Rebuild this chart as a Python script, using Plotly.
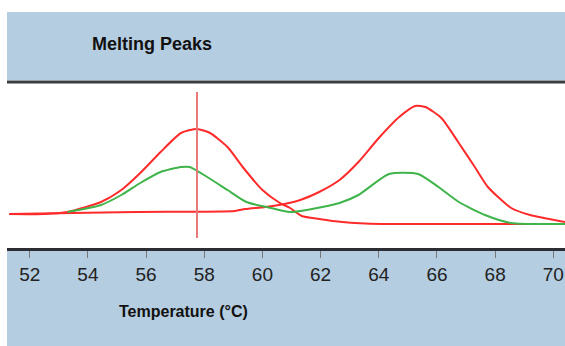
import plotly.graph_objects as go

# ---- data ----
temp_red_a = [51.3, 52.5, 53.3, 54.45, 55.15, 55.8, 56.5, 57.2, 57.75, 58.2, 58.8, 59.35,
              60.0, 60.6, 60.95, 61.35, 61.95, 62.75, 64.1, 66.4, 70.4]
peak_red_a = [0.34, 0.34, 0.36, 0.46, 0.58, 0.75, 0.96, 1.15, 1.19, 1.15, 1.01, 0.80,
              0.58, 0.45, 0.40, 0.32, 0.29, 0.26, 0.24, 0.24, 0.24]

temp_red_b = [51.3, 55.65, 59.05, 59.4, 60.1, 60.75, 61.3, 61.95, 62.65, 63.3, 64.0, 64.7,
              65.25, 65.6, 66.15, 66.75, 67.3, 67.75, 68.55, 69.2, 70.4]
peak_red_b = [0.34, 0.36, 0.37, 0.39, 0.41, 0.44, 0.48, 0.56, 0.68, 0.86, 1.10, 1.31,
              1.42, 1.41, 1.30, 1.05, 0.81, 0.61, 0.40, 0.33, 0.26]

temp_green = [53.3, 54.45, 55.15, 55.8, 56.5, 57.2, 57.5, 58.1, 58.8, 59.45, 60.15, 60.95,
              61.7, 62.65, 63.3, 64.35, 65.35, 66.05, 66.75, 67.65, 68.55, 70.4]
peak_green = [0.36, 0.43, 0.53, 0.65, 0.76, 0.81, 0.81, 0.71, 0.58, 0.46, 0.41, 0.36,
              0.39, 0.45, 0.53, 0.74, 0.74, 0.61, 0.46, 0.33, 0.25, 0.24]

cursor_temp = [57.75, 57.75]
cursor_span = [0.10, 1.56]

tick_vals = [52, 54, 56, 58, 60, 62, 64, 66, 68, 70]
tick_text = ["52", "54", "56", "58", "60", "62", "64", "66", "68", "70"]

title_text = "Melting Peaks"
xlabel_text = "Temperature (°C)"

RED = "#ff2b2b"
GREEN = "#3fb44a"
BLUE = "#b5cde0"
FONT = "Liberation Sans, Arial, sans-serif"

fig = go.Figure()
fig.add_trace(go.Scatter(x=temp_red_b, y=peak_red_b, mode="lines",
                         line=dict(color=RED, width=2, shape="spline", smoothing=0.6),
                         hoverinfo="skip"))
fig.add_trace(go.Scatter(x=temp_red_a, y=peak_red_a, mode="lines",
                         line=dict(color=RED, width=2, shape="spline", smoothing=0.6),
                         hoverinfo="skip"))
fig.add_trace(go.Scatter(x=temp_green, y=peak_green, mode="lines",
                         line=dict(color=GREEN, width=2, shape="spline", smoothing=0.6),
                         hoverinfo="skip"))
fig.add_trace(go.Scatter(x=cursor_temp, y=cursor_span, mode="lines",
                         line=dict(color="#e87a7a", width=2), hoverinfo="skip"))

H_PLOT = 164.0
shapes = [
    # top blue band
    dict(type="rect", xref="paper", yref="paper", x0=0, x1=1,
         y0=1 + 4 / H_PLOT, y1=1 + 72 / H_PLOT, fillcolor=BLUE, line_width=0, layer="below"),
    # dark separator under top band
    dict(type="rect", xref="paper", yref="paper", x0=0, x1=1,
         y0=1 + 0.5 / H_PLOT, y1=1 + 3.5 / H_PLOT, fillcolor="#3a3d42", line_width=0, layer="below"),
    # bottom blue band
    dict(type="rect", xref="paper", yref="paper", x0=0, x1=1,
         y0=-100 / H_PLOT, y1=-1 / H_PLOT, fillcolor=BLUE, line_width=0, layer="below"),
]

fig.update_layout(
    width=565, height=346,
    margin=dict(l=7, r=0, t=84, b=98, pad=0),
    paper_bgcolor="white", plot_bgcolor="white",
    showlegend=False,
    shapes=shapes,
    xaxis=dict(range=[51.22, 70.40], tickmode="array", tickvals=tick_vals, ticktext=tick_text,
               showgrid=False, zeroline=False, showline=True, linecolor="#2a2d33", linewidth=3,
               ticks="outside", ticklen=7, tickwidth=1, tickcolor="#777777",
               tickfont=dict(family=FONT, size=19, color="#222222"), fixedrange=True),
    yaxis=dict(range=[0, 1.64], visible=False, fixedrange=True),
    annotations=[
        dict(text="<b>" + title_text + "</b>", xref="paper", yref="paper",
             x=(152 - 7) / 558, y=1 + 40 / H_PLOT, showarrow=False,
             xanchor="center", yanchor="middle",
             font=dict(family=FONT, size=18, color="#111111")),
        dict(text="<b>" + xlabel_text + "</b>", xref="paper", yref="paper",
             x=(183 - 7) / 558, y=-63 / H_PLOT, showarrow=False,
             xanchor="center", yanchor="middle",
             font=dict(family=FONT, size=16, color="#111111")),
    ],
)

fig.write_html("out.html")
